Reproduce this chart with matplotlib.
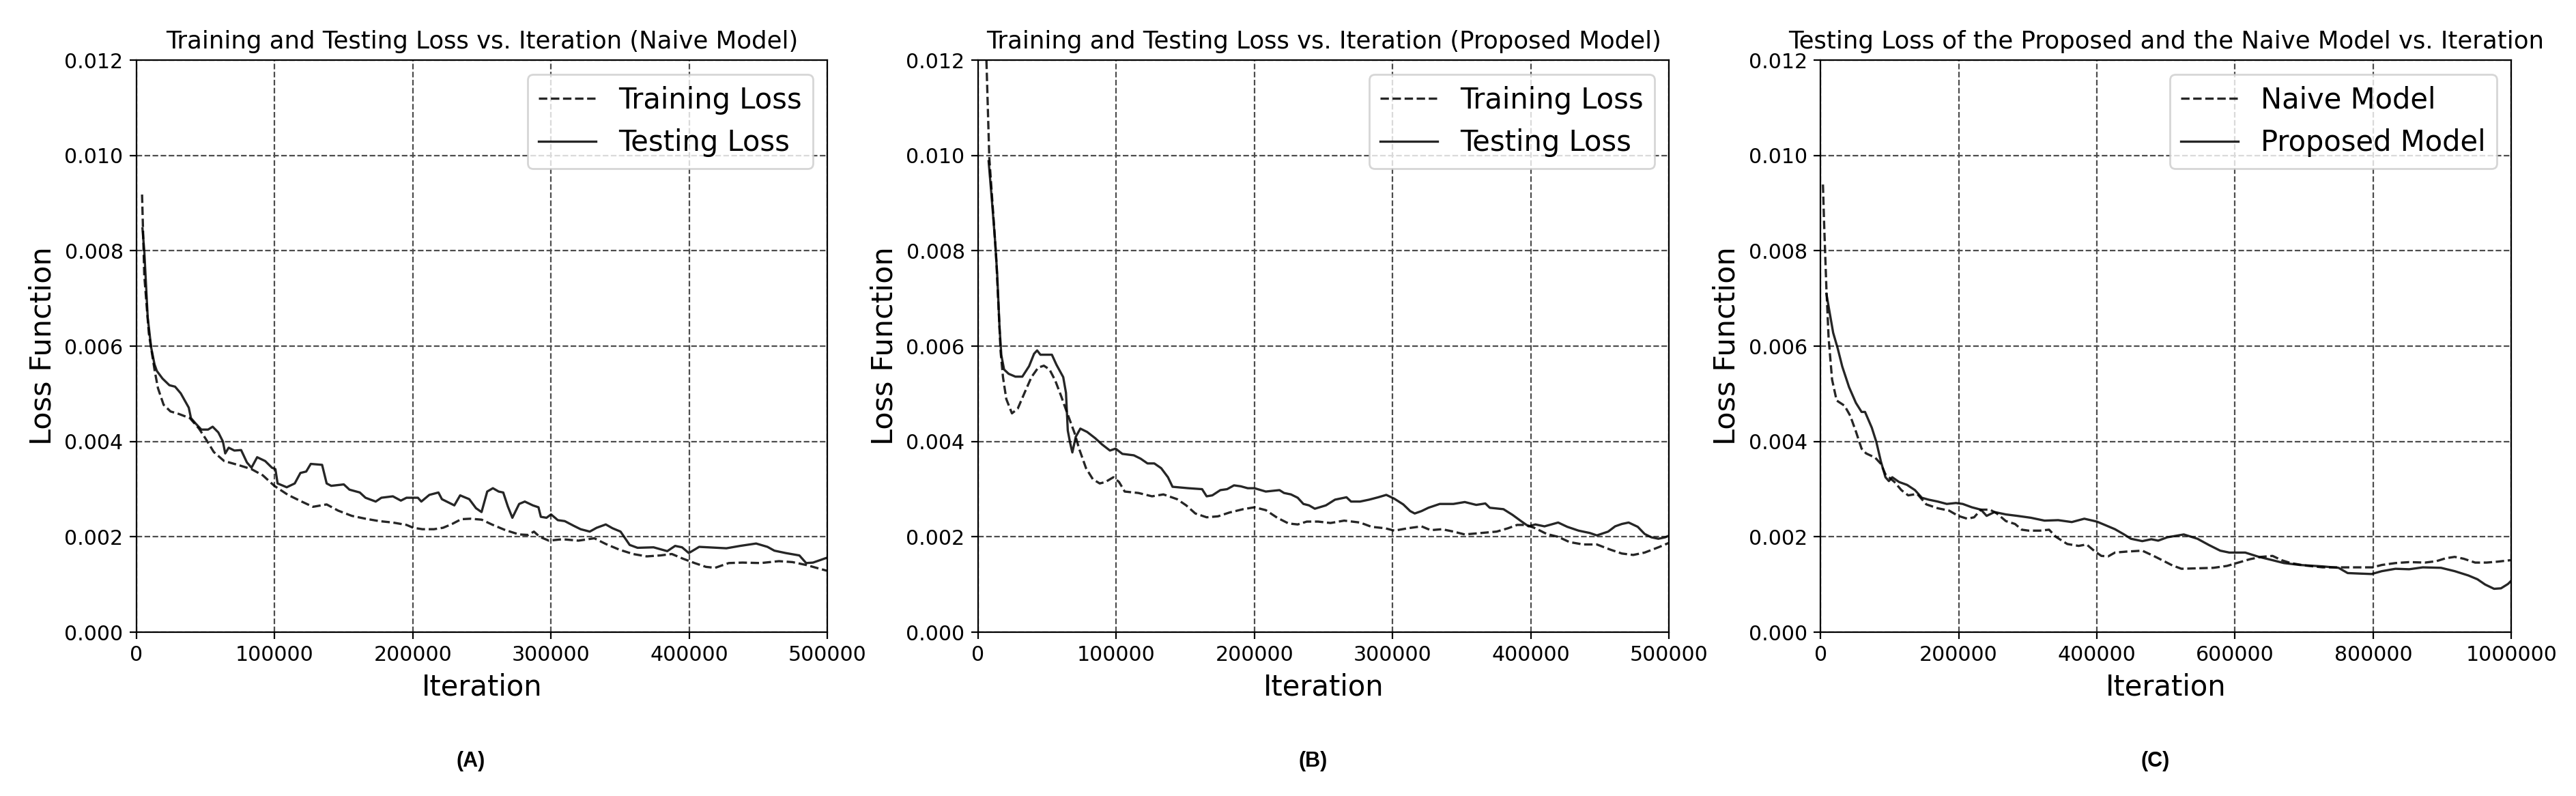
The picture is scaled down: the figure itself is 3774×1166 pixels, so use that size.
import matplotlib.pyplot as plt
import numpy as np

# (A) naive model: training / testing loss
a_train_x = [4000, 5600, 8900, 13000, 15500, 19600, 24600, 30400, 38600, 45200, 50200, 55900,
             63400, 73300, 83200, 91400, 99700, 109600, 119500, 127700, 137600, 145900, 155800,
             165700, 175600, 185500, 195400, 200300, 206900, 215200, 221800, 228400, 235000,
             241600, 249800, 257100, 267000, 276900, 283500, 287600, 291800, 298400, 308200,
             319800, 331300, 339600, 349500, 359300, 369200, 379100, 387400, 395600, 403900,
             412100, 418700, 428600, 438500, 451700, 464900, 474700, 484600, 494500, 499500]
a_train_y = [0.00918, 0.00748, 0.00627, 0.00551, 0.00512, 0.00477, 0.00463, 0.00458, 0.00449,
             0.00427, 0.00405, 0.00378, 0.00359, 0.00351, 0.00342, 0.00329, 0.00307, 0.00288,
             0.00274, 0.00263, 0.00268, 0.00255, 0.00244, 0.00238, 0.00233, 0.00230, 0.00225,
             0.00219, 0.00216, 0.00216, 0.00219, 0.00227, 0.00237, 0.00238, 0.00236, 0.00226,
             0.00214, 0.00205, 0.00204, 0.00211, 0.00200, 0.00192, 0.00195, 0.00192, 0.00197,
             0.00185, 0.00173, 0.00164, 0.00159, 0.00161, 0.00164, 0.00154, 0.00145, 0.00137,
             0.00135, 0.00145, 0.00146, 0.00145, 0.00149, 0.00147, 0.00141, 0.00133, 0.00129]
a_test_x = [4300, 5600, 8100, 10600, 13000, 14700, 18800, 23800, 27900, 32000, 37800, 39400,
            42700, 46900, 51800, 55100, 59200, 62500, 64200, 66700, 70800, 75700, 79900, 83200,
            87300, 93100, 98000, 100500, 102100, 108700, 114500, 118600, 122800, 126100, 134300,
            137600, 140900, 150000, 154100, 161600, 165700, 173100, 177200, 185500, 191300,
            195400, 203600, 206100, 211900, 218500, 221000, 230000, 234200, 240800, 245700,
            249700, 253800, 257900, 262100, 265400, 268700, 272000, 276900, 281000, 286800,
            290900, 292600, 296700, 300000, 304900, 309900, 316500, 321400, 328000, 333000,
            339600, 344500, 350300, 353600, 356900, 362600, 374200, 384100, 389800, 394800,
            399700, 407200, 426900, 436800, 448400, 456600, 461600, 469800, 479700, 484600,
            489600, 499500]
a_test_y = [0.00847, 0.00800, 0.00660, 0.00597, 0.00562, 0.00548, 0.00532, 0.00518, 0.00515,
            0.00501, 0.00471, 0.00449, 0.00438, 0.00425, 0.00425, 0.00431, 0.00419, 0.00400,
            0.00375, 0.00387, 0.00381, 0.00382, 0.00356, 0.00345, 0.00367, 0.00359, 0.00345,
            0.00342, 0.00312, 0.00304, 0.00312, 0.00334, 0.00337, 0.00353, 0.00351, 0.00312,
            0.00307, 0.00310, 0.00299, 0.00293, 0.00282, 0.00274, 0.00282, 0.00285, 0.00276,
            0.00282, 0.00282, 0.00274, 0.00288, 0.00293, 0.00279, 0.00266, 0.00287, 0.00279,
            0.00260, 0.00252, 0.00295, 0.00302, 0.00295, 0.00293, 0.00264, 0.00240, 0.00269,
            0.00274, 0.00266, 0.00262, 0.00242, 0.00240, 0.00247, 0.00235, 0.00233, 0.00223,
            0.00216, 0.00211, 0.00219, 0.00226, 0.00218, 0.00211, 0.00197, 0.00183, 0.00177,
            0.00178, 0.00170, 0.00181, 0.00178, 0.00166, 0.00179, 0.00176, 0.00181, 0.00186,
            0.00179, 0.00171, 0.00166, 0.00161, 0.00145, 0.00146, 0.00156]

# (B) proposed model: training / testing loss
b_train_x = [5000, 8100, 10500, 13000, 14700, 16300, 18000, 20400, 24500, 28700, 33600, 38600,
             43500, 47600, 51700, 55800, 60000, 63300, 66600, 69900, 73200, 78100, 83000, 88000,
             92100, 97900, 102000, 106100, 116000, 125900, 134100, 144000, 150600, 157200,
             165400, 173600, 181900, 191800, 200000, 208200, 216500, 224700, 231300, 237900,
             246100, 255000, 264900, 276400, 284700, 294600, 301200, 311000, 320900, 327500,
             335700, 344000, 352200, 363800, 375300, 383500, 390100, 396700, 403300, 411500,
             419800, 428000, 437900, 447800, 457700, 465900, 474100, 482400, 492300, 499700]
b_train_y = [0.01300, 0.00995, 0.00896, 0.00791, 0.00686, 0.00588, 0.00535, 0.00489, 0.00459,
             0.00469, 0.00502, 0.00535, 0.00555, 0.00559, 0.00551, 0.00528, 0.00496, 0.00469,
             0.00443, 0.00417, 0.00384, 0.00344, 0.00321, 0.00312, 0.00315, 0.00325, 0.00315,
             0.00295, 0.00292, 0.00285, 0.00289, 0.00279, 0.00266, 0.00249, 0.00241, 0.00243,
             0.00251, 0.00258, 0.00262, 0.00256, 0.00240, 0.00228, 0.00226, 0.00232, 0.00232,
             0.00229, 0.00234, 0.00230, 0.00221, 0.00218, 0.00213, 0.00218, 0.00222, 0.00214,
             0.00216, 0.00211, 0.00205, 0.00208, 0.00211, 0.00218, 0.00225, 0.00225, 0.00218,
             0.00206, 0.00200, 0.00189, 0.00184, 0.00184, 0.00173, 0.00165, 0.00162, 0.00167,
             0.00178, 0.00187]
b_test_x = [7600, 9700, 12200, 13800, 15500, 16800, 18800, 22100, 27000, 32000, 36900, 40500,
            42700, 45100, 53400, 56700, 61600, 63600, 64900, 66600, 68200, 70700, 74000, 78900,
            84700, 89600, 95400, 99500, 104400, 112700, 117600, 122600, 127500, 132500, 137400,
            140700, 152200, 162100, 165400, 169500, 175300, 180200, 185200, 190100, 195100,
            200000, 208200, 218100, 221400, 226400, 231300, 235400, 239500, 243700, 251700,
            258300, 266600, 269900, 276400, 283000, 289600, 295400, 301200, 307700, 312700,
            316000, 320900, 325900, 334100, 344000, 352200, 360500, 367100, 370300, 380200,
            386800, 393400, 398400, 403300, 409900, 419800, 426400, 434600, 442800, 447800,
            456000, 461000, 465900, 470800, 477400, 482400, 487300, 492300, 497200, 499700]
b_test_y = [0.00988, 0.00916, 0.00824, 0.00752, 0.00640, 0.00581, 0.00551, 0.00542, 0.00536,
            0.00536, 0.00558, 0.00584, 0.00591, 0.00582, 0.00582, 0.00561, 0.00535, 0.00502,
            0.00423, 0.00397, 0.00377, 0.00410, 0.00427, 0.00420, 0.00407, 0.00394, 0.00381,
            0.00385, 0.00374, 0.00371, 0.00364, 0.00354, 0.00354, 0.00344, 0.00325, 0.00305,
            0.00302, 0.00300, 0.00285, 0.00287, 0.00298, 0.00300, 0.00308, 0.00306, 0.00302,
            0.00302, 0.00295, 0.00298, 0.00292, 0.00289, 0.00282, 0.00269, 0.00266, 0.00259,
            0.00266, 0.00278, 0.00283, 0.00274, 0.00274, 0.00278, 0.00283, 0.00288, 0.00280,
            0.00268, 0.00254, 0.00249, 0.00254, 0.00261, 0.00269, 0.00269, 0.00273, 0.00267,
            0.00270, 0.00261, 0.00258, 0.00246, 0.00232, 0.00222, 0.00226, 0.00222, 0.00230,
            0.00221, 0.00213, 0.00208, 0.00203, 0.00211, 0.00222, 0.00227, 0.00230, 0.00221,
            0.00206, 0.00199, 0.00196, 0.00199, 0.00202]

# (C) testing loss of both models
c_naive_x = [3600, 5300, 8600, 11800, 16800, 23400, 34900, 43100, 51300, 59500, 66100, 79300,
             87500, 94100, 107200, 117100, 127000, 140100, 153300, 169700, 186200, 199300,
             212500, 222400, 232200, 245400, 255300, 268400, 281600, 291400, 301300, 317800,
             330900, 340800, 357200, 373700, 385200, 396700, 406600, 416400, 426300, 442800,
             465800, 482200, 498700, 509400, 522600, 545600, 568700, 588500, 604900, 621400,
             637900, 654400, 667500, 680700, 700500, 726800, 753200, 776300, 799300, 812500,
             832300, 852100, 875100, 891600, 904800, 918000, 931100, 947600, 964100, 980600,
             998700]
c_naive_y = [0.00939, 0.00857, 0.00721, 0.00617, 0.00530, 0.00486, 0.00475, 0.00454, 0.00421,
             0.00385, 0.00375, 0.00366, 0.00353, 0.00331, 0.00315, 0.00298, 0.00287, 0.00290,
             0.00268, 0.00260, 0.00255, 0.00244, 0.00238, 0.00241, 0.00257, 0.00257, 0.00249,
             0.00233, 0.00227, 0.00215, 0.00213, 0.00213, 0.00215, 0.00200, 0.00185, 0.00181,
             0.00184, 0.00170, 0.00160, 0.00159, 0.00167, 0.00169, 0.00171, 0.00160, 0.00148,
             0.00140, 0.00133, 0.00134, 0.00135, 0.00139, 0.00146, 0.00153, 0.00158, 0.00160,
             0.00151, 0.00145, 0.00140, 0.00136, 0.00136, 0.00136, 0.00136, 0.00141, 0.00145,
             0.00147, 0.00146, 0.00149, 0.00155, 0.00158, 0.00154, 0.00146, 0.00146, 0.00148,
             0.00151]
c_prop_x = [8600, 11800, 18400, 25000, 31600, 41400, 51300, 59500, 64500, 74300, 80900, 87500,
            94100, 99000, 103900, 113800, 125300, 136800, 146700, 156600, 169700, 182900,
            196100, 205900, 219100, 232200, 240500, 252000, 268400, 284900, 304600, 324300,
            344100, 363800, 381900, 400000, 413200, 426300, 439500, 449300, 465800, 478900,
            488800, 502000, 525900, 545600, 562100, 578600, 591800, 614800, 634600, 654400,
            670800, 693900, 726800, 749900, 763100, 779600, 797700, 812500, 832300, 852100,
            871800, 898200, 918000, 937700, 950900, 962000, 975000, 985000, 995000, 1000000]
c_prop_y = [0.00710, 0.00683, 0.00628, 0.00595, 0.00557, 0.00514, 0.00481, 0.00462, 0.00462,
            0.00429, 0.00399, 0.00358, 0.00325, 0.00317, 0.00325, 0.00315, 0.00309, 0.00298,
            0.00282, 0.00278, 0.00274, 0.00269, 0.00271, 0.00269, 0.00262, 0.00257, 0.00244,
            0.00252, 0.00247, 0.00244, 0.00240, 0.00234, 0.00235, 0.00231, 0.00238, 0.00232,
            0.00224, 0.00216, 0.00205, 0.00196, 0.00191, 0.00195, 0.00192, 0.00199, 0.00205,
            0.00196, 0.00183, 0.00171, 0.00167, 0.00167, 0.00158, 0.00151, 0.00145, 0.00141,
            0.00138, 0.00135, 0.00124, 0.00123, 0.00122, 0.00128, 0.00133, 0.00132, 0.00136,
            0.00135, 0.00128, 0.00119, 0.00111, 0.00100, 0.00091, 0.00092, 0.00101, 0.00108]

y_ticks = [0.000, 0.002, 0.004, 0.006, 0.008, 0.010, 0.012]
x_ticks_half = [0, 100000, 200000, 300000, 400000, 500000]
x_ticks_full = [0, 200000, 400000, 600000, 800000, 1000000]

panels = [
    ("Training and Testing Loss vs. Iteration (Naive Model)",
     a_train_x, a_train_y, a_test_x, a_test_y, "Training Loss", "Testing Loss",
     x_ticks_half, "(A)"),
    ("Training and Testing Loss vs. Iteration (Proposed Model)",
     b_train_x, b_train_y, b_test_x, b_test_y, "Training Loss", "Testing Loss",
     x_ticks_half, "(B)"),
    ("Testing Loss of the Proposed and the Naive Model vs. Iteration",
     c_naive_x, c_naive_y, c_prop_x, c_prop_y, "Naive Model", "Proposed Model",
     x_ticks_full, "(C)"),
]

fig = plt.figure(figsize=(18.87, 5.83), dpi=200)
lefts = [0.0530, 0.3797, 0.7067]
letter_x = [0.1828, 0.5098, 0.8368]

for i, (title, x1, y1, x2, y2, lab1, lab2, xt, tag) in enumerate(panels):
    ax = fig.add_axes([lefts[i], 0.2058, 0.2682, 0.7187])
    ax.plot(x1, y1, color='black', linestyle='--', linewidth=1.2, alpha=0.85, label=lab1)
    ax.plot(x2, y2, color='black', linestyle='-', linewidth=1.2, alpha=0.85, label=lab2)
    ax.set_xlim(0, xt[-1])
    ax.set_ylim(0, 0.012)
    ax.set_xticks(xt)
    ax.set_yticks(y_ticks)
    ax.ticklabel_format(style='plain', axis='x', useOffset=False)
    ax.grid(True, color='0.3', linestyle='--', linewidth=0.8)
    ax.tick_params(labelsize=10.8)
    ax.set_title(title, fontsize=12.8)
    ax.set_xlabel("Iteration", fontsize=15)
    ax.set_ylabel("Loss Function", fontsize=15.5)
    ax.legend(loc='upper right', fontsize=15)
    fig.text(letter_x[i], 0.044, tag, ha='center', va='center', fontsize=11,
             fontweight='bold', family='Liberation Sans')

fig.savefig("out.png", dpi=200)
